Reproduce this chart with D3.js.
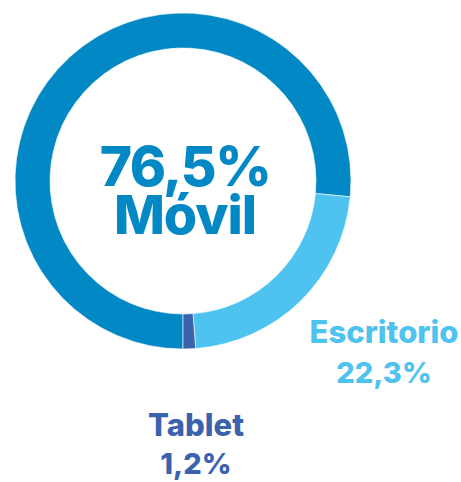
<!DOCTYPE html>
<html>
<head>
<meta charset="utf-8">
<script src="https://cdn.jsdelivr.net/npm/d3@7"></script>
<style>
  html, body { margin: 0; padding: 0; background: #ffffff; }
  svg text { font-family: Inter, Roboto, sans-serif; font-weight: 800; }
</style>
</head>
<body>
<svg id="chart" width="461" height="482"></svg>
<script>
// Device share of traffic
const categories = ["Móvil", "Escritorio", "Tablet"];
const values = [76.5, 22.3, 1.2];
const valueLabels = ["76,5%", "22,3%", "1,2%"];
const colors = ["#0288c5", "#4fc3f0", "#3b63ad"];

const svg = d3.select("#chart");
const cx = 183, cy = 181;
const outerR = 168, innerR = 133;

const pie = d3.pie().sort(null).value(d => d).startAngle(Math.PI).endAngle(3 * Math.PI);
const arc = d3.arc().innerRadius(innerR).outerRadius(outerR);

const g = svg.append("g").attr("transform", `translate(${cx},${cy})`);
g.selectAll("path")
  .data(pie(values))
  .join("path")
  .attr("d", arc)
  .attr("fill", (d, i) => colors[i])
  .attr("stroke", "#ffffff")
  .attr("stroke-width", 0.6);

// Centre label for the main segment: value over name in one block
const centre = g.append("text")
  .attr("text-anchor", "middle")
  .attr("fill", colors[0]);
centre.append("tspan")
  .attr("x", 2).attr("y", 5)
  .attr("font-size", 55)
  .attr("letter-spacing", -1.5)
  .text(valueLabels[0]);
centre.append("tspan")
  .attr("x", 2).attr("y", 53)
  .attr("font-size", 54)
  .attr("letter-spacing", -1)
  .text(categories[0]);

// Outside labels
const outside = [
  { i: 1, x: 384, y1: 343, y2: 383 },
  { i: 2, x: 196, y1: 436, y2: 474 }
];
outside.forEach(o => {
  const t = svg.append("text")
    .attr("text-anchor", "middle")
    .attr("fill", colors[o.i]);
  t.append("tspan")
    .attr("x", o.x).attr("y", o.y1)
    .attr("font-size", 31)
    .text(categories[o.i]);
  t.append("tspan")
    .attr("x", o.x).attr("y", o.y2)
    .attr("font-size", 29)
    .text(valueLabels[o.i]);
});
</script>
</body>
</html>
